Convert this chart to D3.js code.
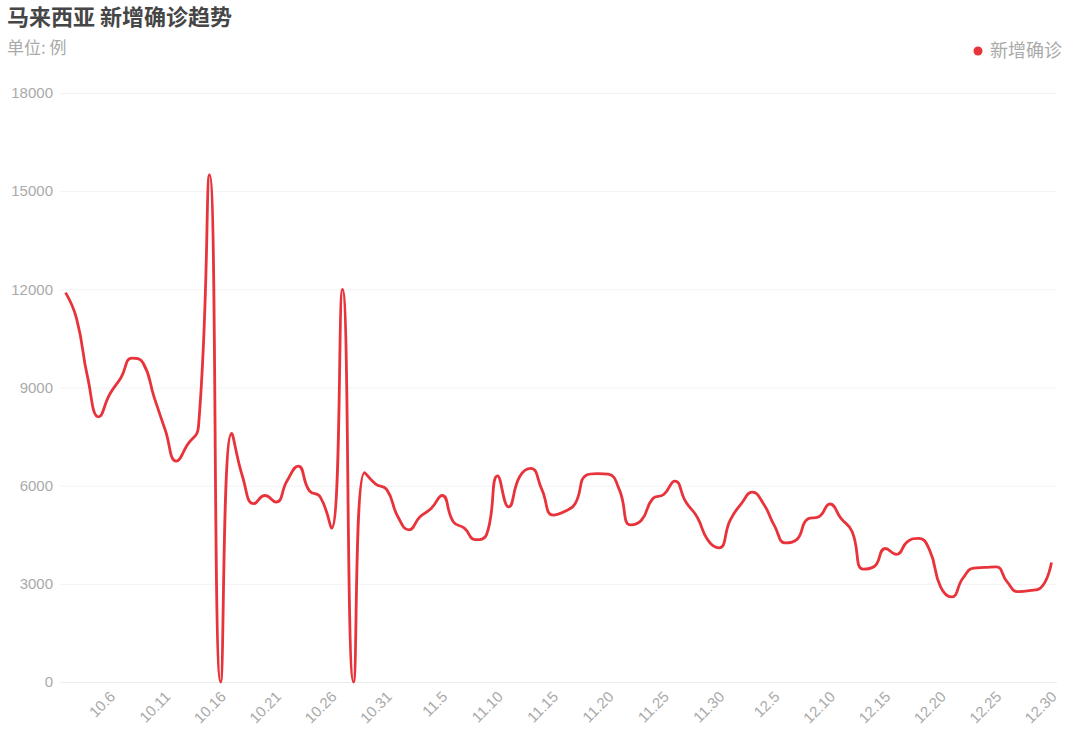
<!DOCTYPE html>
<html>
<head>
<meta charset="utf-8">
<script src="https://cdn.jsdelivr.net/npm/d3@7"></script>
<style>
  html, body { margin: 0; padding: 0; background: #fff; }
  svg { display: block; font-family: "Noto Sans CJK SC", "Noto Sans", sans-serif; }
</style>
</head>
<body>
<svg id="chart" width="1080" height="741"></svg>
<script>
const titleText = "马来西亚 新增确诊趋势";
const subtitleText = "单位: 例";
const seriesName = "新增确诊";

const dates = [
  "10.2","10.3","10.4","10.5","10.6","10.7","10.8","10.9","10.10","10.11",
  "10.12","10.13","10.14","10.15","10.16","10.17","10.18","10.19","10.20","10.21",
  "10.22","10.23","10.24","10.25","10.26","10.27","10.28","10.29","10.30","10.31",
  "11.1","11.2","11.3","11.4","11.5","11.6","11.7","11.8","11.9","11.10",
  "11.11","11.12","11.13","11.14","11.15","11.16","11.17","11.18","11.19","11.20",
  "11.21","11.22","11.23","11.24","11.25","11.26","11.27","11.28","11.29","11.30",
  "12.1","12.2","12.3","12.4","12.5","12.6","12.7","12.8","12.9","12.10",
  "12.11","12.12","12.13","12.14","12.15","12.16","12.17","12.18","12.19","12.20",
  "12.21","12.22","12.23","12.24","12.25","12.26","12.27","12.28","12.29","12.30"
];

const newCases = [
  11900, 11100, 9300, 8100, 8800, 9300, 9900, 9750, 8700, 7700,
  6750, 7250, 7800, 15500, 0, 7600, 6250, 5450, 5700, 5500,
  6150, 6600, 5850, 5650, 4700, 12000, 0, 6400, 6050, 5880,
  5050, 4650, 5050, 5300, 5700, 4900, 4700, 4350, 4500, 6300,
  5350, 6280, 6530, 5880, 5100, 5200, 5450, 6320, 6370, 6350,
  5870, 4800, 4950, 5600, 5730, 6140, 5500, 5050, 4330, 4100,
  4950, 5450, 5800, 5450, 4770, 4250, 4350, 4980, 5050, 5440,
  5000, 4600, 3450, 3530, 4080, 3900, 4290, 4390, 4030, 2900,
  2600, 3170, 3480, 3500, 3520, 3060, 2760, 2790, 2870, 3650
];

const xTickLabels = ["10.6","10.11","10.16","10.21","10.26","10.31","11.5","11.10","11.15","11.20",
  "11.25","11.30","12.5","12.10","12.15","12.20","12.25","12.30"];
const yTicks = [0, 3000, 6000, 9000, 12000, 15000, 18000];

const lineColor = "#e8333b";

const svg = d3.select("#chart");
const plotLeft = 60, plotRight = 1057, plotTop = 93, plotBottom = 682;

const x = d3.scalePoint().domain(dates).range([plotLeft, plotRight]).padding(0.5);
const y = d3.scaleLinear().domain([0, 18000]).range([plotBottom, plotTop]);

// Title & subtitle
svg.append("text").attr("x", 7).attr("y", 25)
  .attr("font-size", 22).attr("font-weight", "bold").attr("fill", "#464646")
  .text(titleText);
svg.append("text").attr("x", 7).attr("y", 54)
  .attr("font-size", 17).attr("fill", "#aaaaaa")
  .text(subtitleText);

// Legend
svg.append("circle").attr("cx", 978).attr("cy", 51).attr("r", 4.5).attr("fill", lineColor);
svg.append("text").attr("x", 990).attr("y", 51).attr("dy", "0.35em")
  .attr("font-size", 18).attr("fill", "#aaaaaa").text(seriesName);

// Grid lines + y labels
const yAxis = d3.axisLeft(y).tickValues(yTicks).tickSize(-(plotRight - plotLeft)).tickPadding(7).tickFormat(d3.format("d"));
const gy = svg.append("g").attr("transform", `translate(${plotLeft},0)`).call(yAxis);
gy.select(".domain").remove();
gy.selectAll(".tick line").attr("stroke", "#f2f2f2").attr("stroke-width", 1);
gy.selectAll(".tick text").attr("fill", "#aaaaaa").attr("font-size", 15);
gy.selectAll(".tick").filter(d => d === 0).select("line").attr("stroke", "#ececec");

// X axis labels
const xAxis = d3.axisBottom(x).tickValues(xTickLabels).tickSize(0).tickPadding(0);
const gx = svg.append("g").attr("transform", `translate(0,${plotBottom})`).call(xAxis);
gx.select(".domain").remove();
gx.selectAll(".tick text")
  .attr("fill", "#aaaaaa").attr("font-size", 15)
  .attr("text-anchor", "end")
  .attr("dy", "0.35em")
  .attr("y", 0)
  .attr("transform", "translate(2,12) rotate(-45)");

// ECharts-like smooth curve (smooth = 0.5, clamped control points)
function curveSmoothClamp(context) {
  let pts = [];
  const smooth = 0.5;
  return {
    areaStart() {}, areaEnd() {},
    lineStart() { pts = []; },
    point(px, py) { pts.push([+px, +py]); },
    lineEnd() {
      const n = pts.length;
      if (!n) return;
      let prevX, prevY, cpx0, cpy0;
      for (let i = 0; i < n; i++) {
        const [px, py] = pts[i];
        if (i === 0) {
          context.moveTo(px, py); cpx0 = px; cpy0 = py;
        } else {
          let cpx1, cpy1, nextCpx0, nextCpy0;
          if (i === n - 1) {
            cpx1 = px; cpy1 = py;
          } else {
            const [nx, ny] = pts[i + 1];
            let vx = nx - prevX, vy = ny - prevY;
            const dx0 = px - prevX, dy0 = py - prevY, dx1 = nx - px, dy1 = ny - py;
            const lenPrev = Math.sqrt(dx0 * dx0 + dy0 * dy0);
            const lenNext = Math.sqrt(dx1 * dx1 + dy1 * dy1);
            const ratio = lenNext / (lenNext + lenPrev);
            nextCpx0 = px + vx * smooth * ratio;
            nextCpy0 = py + vy * smooth * ratio;
            nextCpx0 = Math.max(Math.min(nextCpx0, Math.max(nx, px)), Math.min(nx, px));
            nextCpy0 = Math.max(Math.min(nextCpy0, Math.max(ny, py)), Math.min(ny, py));
            vx = nextCpx0 - px; vy = nextCpy0 - py;
            cpx1 = px - vx * lenPrev / lenNext;
            cpy1 = py - vy * lenPrev / lenNext;
            cpx1 = Math.max(Math.min(cpx1, Math.max(prevX, px)), Math.min(prevX, px));
            cpy1 = Math.max(Math.min(cpy1, Math.max(prevY, py)), Math.min(prevY, py));
            vx = px - cpx1; vy = py - cpy1;
            nextCpx0 = px + vx * lenNext / lenPrev;
            nextCpy0 = py + vy * lenNext / lenPrev;
          }
          context.bezierCurveTo(cpx0, cpy0, cpx1, cpy1, px, py);
          cpx0 = nextCpx0; cpy0 = nextCpy0;
        }
        prevX = px; prevY = py;
      }
    }
  };
}

const line = d3.line()
  .x((d, i) => x(dates[i]))
  .y(d => y(d))
  .curve(curveSmoothClamp);

svg.append("path")
  .datum(newCases)
  .attr("fill", "none")
  .attr("stroke", lineColor)
  .attr("stroke-width", 2.8)
  .attr("stroke-linejoin", "round")
  .attr("d", line);
</script>
</body>
</html>
